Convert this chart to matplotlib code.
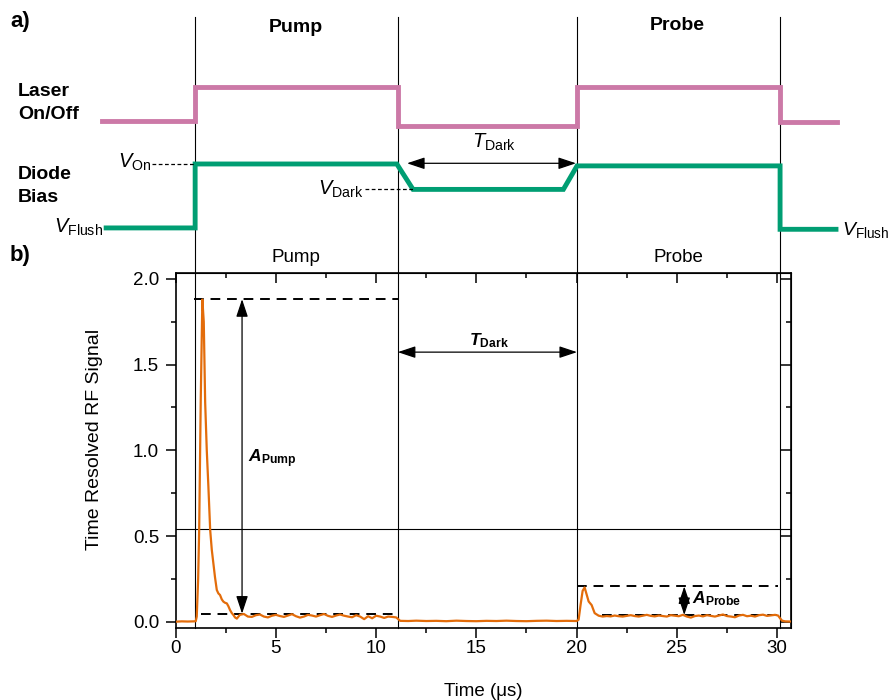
import matplotlib.pyplot as plt
from matplotlib.ticker import MultipleLocator

plt.rcParams['font.family'] = ['Liberation Sans', 'DejaVu Sans']
plt.rcParams['mathtext.fontset'] = 'custom'
plt.rcParams['mathtext.rm'] = 'Liberation Sans'
plt.rcParams['mathtext.it'] = 'Liberation Sans:italic'
plt.rcParams['mathtext.bf'] = 'Liberation Sans:bold'
plt.rcParams['mathtext.bfit'] = 'Liberation Sans:italic:bold'

# time resolved RF signal (time in us)
time_us = [0.0, 0.3, 0.6, 0.9, 1.0, 1.05, 1.12, 1.17, 1.25, 1.33, 1.40, 1.47, 1.55, 1.63,
           1.72, 1.80, 1.88, 1.96, 2.05, 2.13, 2.21, 2.30, 2.38, 2.47, 2.55, 2.63, 2.71,
           2.80, 2.88, 2.96, 3.05,
           3.2, 3.4, 3.6, 3.8, 4.0, 4.2, 4.4, 4.6, 4.8, 5.0, 5.2, 5.4, 5.6, 5.8, 6.0,
           6.2, 6.4, 6.6, 6.8, 7.0, 7.2, 7.4, 7.6, 7.8, 8.0, 8.2, 8.4, 8.6, 8.8, 9.0,
           9.2, 9.4, 9.6, 9.8, 10.0, 10.2, 10.4, 10.6, 10.8, 11.0,
           11.1, 11.2, 11.6, 12.0, 12.5, 13.0, 13.5, 14.0, 14.5, 15.0, 15.5, 16.0, 16.5,
           17.0, 17.5, 18.0, 18.5, 19.0, 19.5, 20.0,
           20.1, 20.2, 20.3, 20.4, 20.5, 20.6, 20.75, 20.9, 21.1,
           21.3, 21.5, 21.7, 21.9, 22.1, 22.3, 22.5, 22.7, 22.9, 23.1, 23.3, 23.5, 23.7,
           23.9, 24.1, 24.3, 24.5, 24.7, 24.9, 25.1, 25.3, 25.5, 25.7, 25.9, 26.1, 26.3,
           26.5, 26.7, 26.9, 27.1, 27.3, 27.5, 27.7, 27.9, 28.1, 28.3, 28.5, 28.7, 28.9,
           29.1, 29.3, 29.5, 29.7, 29.9, 30.05,
           30.15, 30.25, 30.4, 30.68]
rf_signal = [0.000, 0.002, 0.001, 0.002, 0.003, 0.030, 0.250, 0.530, 1.300, 1.880, 1.750,
             1.280, 1.000, 0.790, 0.535, 0.420, 0.340, 0.260, 0.185, 0.165, 0.156, 0.130,
             0.117, 0.110, 0.107, 0.090, 0.068, 0.050, 0.039, 0.025, 0.018,
             0.040, 0.045, 0.030, 0.028, 0.038, 0.042, 0.030, 0.025, 0.035, 0.040, 0.033,
             0.028, 0.036, 0.044, 0.032, 0.024, 0.030, 0.040, 0.036, 0.030, 0.038, 0.045,
             0.034, 0.028, 0.036, 0.042, 0.035, 0.030, 0.026, 0.038, 0.030, 0.015, 0.032,
             0.020, 0.035, 0.030, 0.022, 0.030, 0.028, 0.025,
             0.015, 0.005, 0.004, 0.006, 0.004, 0.005, 0.003, 0.006, 0.004, 0.003, 0.005,
             0.004, 0.006, 0.004, 0.003, 0.005, 0.006, 0.004, 0.005, 0.004,
             0.012, 0.100, 0.180, 0.200, 0.160, 0.118, 0.097, 0.050, 0.035,
             0.030, 0.033, 0.031, 0.036, 0.032, 0.030, 0.034, 0.038, 0.033, 0.030, 0.035,
             0.040, 0.034, 0.031, 0.036, 0.033, 0.030, 0.038, 0.035, 0.032, 0.040, 0.030,
             0.024, 0.033, 0.036, 0.031, 0.038, 0.034, 0.030, 0.036, 0.042, 0.033, 0.030,
             0.026, 0.036, 0.040, 0.032, 0.035, 0.030, 0.038, 0.041, 0.034, 0.037, 0.040,
             0.036,
             0.020, 0.006, 0.002, 0.001]

# amplitude markers
pump_peak, pump_base = 1.882, 0.047
probe_peak, probe_base = 0.206, 0.039
pump_arrow_t, probe_arrow_t = 3.31, 25.37
tdark_level = 1.573
threshold = 0.54

# pulse edges (us)
pulse_edges = [0.97, 11.08, 20.02, 30.15]

# timing scheme for panel a) (levels in arbitrary units)
laser_t = [-3.67, 0.97, 0.97, 11.08, 11.08, 20.02, 20.02, 30.15, 30.15, 33.0]
laser_lvl = [0.557, 0.557, 0.680, 0.680, 0.539, 0.539, 0.683, 0.683, 0.554, 0.554]
bias_t = [-3.47, 0.97, 0.97, 11.03, 11.84, 19.34, 20.02, 30.15, 30.15, 32.94]
bias_lvl = [0.166, 0.166, 0.400, 0.400, 0.307, 0.307, 0.393, 0.393, 0.161, 0.161]

W, H = 891, 700


def fx(px):
    return px / W


def fy(py):
    return 1 - py / H


fig = plt.figure(figsize=(8.91, 7.0), dpi=100)
ax = fig.add_axes([fx(175.7), fy(627.7), (790.7 - 175.7) / W, (627.7 - 273.3) / H])
ax.set_xlim(0, 30.68)
ax.set_ylim(-0.035, 2.033)

for e in pulse_edges:
    ax.axvline(e, ymin=0, ymax=1.723, clip_on=False, color='k', lw=0.8, zorder=1)
ax.axhline(threshold, color='k', lw=0.8, zorder=1)

ax.plot(time_us, rf_signal, color='#E36C0A', lw=1.6, zorder=3)

dash = dict(color='k', lw=1.4, ls=(0, (5, 3.5)), zorder=2)
ax.plot([0.93, pulse_edges[1]], [pump_peak, pump_peak], **dash)
ax.plot([1.27, pulse_edges[1]], [pump_base, pump_base], **dash)
ax.plot([pulse_edges[2], 30.05], [probe_peak, probe_peak], **dash)
ax.plot([21.25, 30.05], [probe_base, probe_base], **dash)

arr = dict(arrowstyle='<|-|>,head_length=0.9,head_width=0.3', color='k', lw=0.9,
           shrinkA=0, shrinkB=0, mutation_scale=12)
ax.annotate('', xy=(pump_arrow_t, pump_peak), xytext=(pump_arrow_t, pump_base), arrowprops=arr)
ax.annotate('', xy=(probe_arrow_t, probe_peak), xytext=(probe_arrow_t, probe_base), arrowprops=arr)
ax.annotate('', xy=(pulse_edges[1], tdark_level), xytext=(pulse_edges[2], tdark_level), arrowprops=arr)

ax.text(3.63, 0.932, r'$\mathbfit{A}_{\mathbf{Pump}}$', fontsize=12.5, va='baseline')
ax.text(25.75, 0.11, r'$\mathbfit{A}_{\mathbf{Probe}}$', fontsize=12.5, va='baseline')
ax.text(14.63, 1.614, r'$\mathbfit{T}_{\mathbf{Dark}}$', fontsize=12.5, va='baseline')

ax.xaxis.set_major_locator(MultipleLocator(5))
ax.xaxis.set_minor_locator(MultipleLocator(2.5))
ax.yaxis.set_major_locator(MultipleLocator(0.5))
ax.yaxis.set_minor_locator(MultipleLocator(0.25))
ax.yaxis.set_major_formatter(lambda v, p: f'{v:.1f}')
ax.tick_params(which='major', direction='out', length=7, width=1.1, labelsize=13.5)
ax.tick_params(which='minor', direction='out', length=3.6, width=1.1)
ax.tick_params(axis='x', pad=2)
ax.tick_params(axis='y', pad=5)
for s in ax.spines.values():
    s.set_linewidth(1.2)

secx = ax.secondary_xaxis('top')
secx.xaxis.set_major_locator(MultipleLocator(5))
secx.xaxis.set_minor_locator(MultipleLocator(2.5))
secx.tick_params(which='both', direction='in', labeltop=False, width=1.1)
secx.tick_params(which='major', length=7)
secx.tick_params(which='minor', length=3.6)
secy = ax.secondary_yaxis('right')
secy.yaxis.set_major_locator(MultipleLocator(0.5))
secy.yaxis.set_minor_locator(MultipleLocator(0.25))
secy.tick_params(which='both', direction='in', labelright=False, width=1.1)
secy.tick_params(which='major', length=7)
secy.tick_params(which='minor', length=3.6)

ax.set_xlabel('Time (\u03bcs)', fontsize=13.5)
ax.set_ylabel('Time Resolved RF Signal', fontsize=14)
ax.xaxis.set_label_coords(0.5, -0.156)
ax.yaxis.set_label_coords(-0.118, 0.53)

# panel a) timing scheme
ax_top = fig.add_axes([fx(175.7), fy(273.3), (790.7 - 175.7) / W, 273.3 / H])
ax_top.set_xlim(ax.get_xlim())
ax_top.set_ylim(0, 1)
ax_top.axis('off')
ax_top.plot(laser_t, laser_lvl, color='#CC79A7', lw=3.5, clip_on=False, solid_joinstyle='miter')
ax_top.plot(bias_t, bias_lvl, color='#009E73', lw=3.5, clip_on=False, solid_joinstyle='miter')
thin = dict(color='k', lw=0.9, ls=(0, (3, 2)), clip_on=False)
ax_top.plot([-1.2, 0.97], [0.400, 0.400], **thin)
ax_top.plot([9.45, 11.84], [0.307, 0.307], **thin)
ax_top.annotate('', xy=(11.54, 0.4025), xytext=(19.97, 0.4025), arrowprops=arr)

fig.text(fx(10), fy(22), 'a)', fontsize=16, fontweight='bold', va='center')
fig.text(fx(10), fy(255), 'b)', fontsize=16, fontweight='bold', va='center')
fig.text(fx(296), fy(27), 'Pump', fontsize=14, fontweight='bold', ha='center', va='center')
fig.text(fx(677), fy(26), 'Probe', fontsize=14, fontweight='bold', ha='center', va='center')
fig.text(fx(296), fy(257), 'Pump', fontsize=13.5, ha='center', va='center')
fig.text(fx(678), fy(257), 'Probe', fontsize=13.5, ha='center', va='center')
fig.text(fx(18), fy(103), 'Laser\nOn/Off', fontsize=14, fontweight='bold', va='center', linespacing=1.5)
fig.text(fx(18), fy(186), 'Diode\nBias', fontsize=14, fontweight='bold', va='center', linespacing=1.5)

fig.text(fx(151), fy(168), r'$V_{\mathrm{On}}$', fontsize=14.5, ha='right', va='baseline')
fig.text(fx(103), fy(233), r'$V_{\mathrm{Flush}}$', fontsize=14.5, ha='right', va='baseline')
fig.text(fx(363), fy(195), r'$V_{\mathrm{Dark}}$', fontsize=14.5, ha='right', va='baseline')
fig.text(fx(842), fy(235), r'$V_{\mathrm{Flush}}$', fontsize=14, ha='left', va='baseline')
fig.text(fx(472), fy(148), r'$T_{\mathrm{Dark}}$', fontsize=14.5, ha='left', va='baseline')

fig.savefig('out.png', dpi=100)
